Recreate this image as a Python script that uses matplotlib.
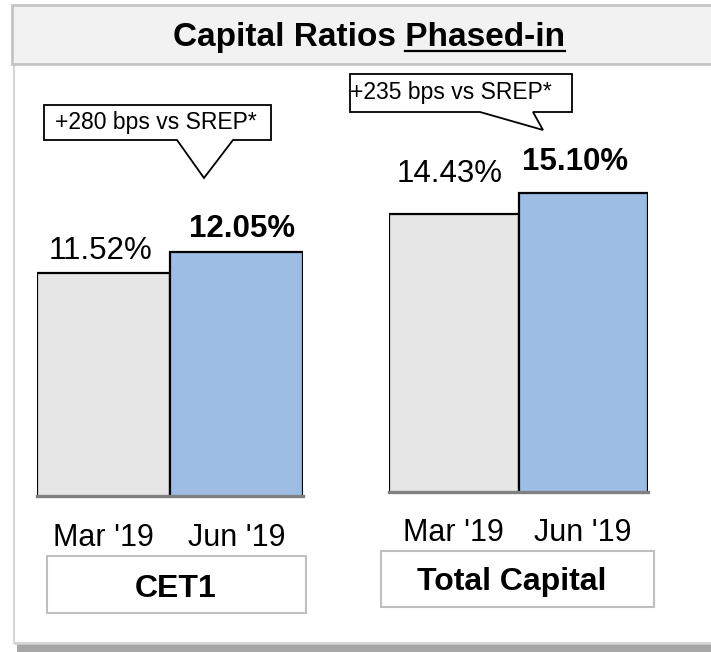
import matplotlib
matplotlib.use("Agg")
import matplotlib.pyplot as plt
from matplotlib.patches import Rectangle, Polygon

plt.rcParams['font.family'] = ['Liberation Sans', 'DejaVu Sans']

# data
periods = ["Mar '19", "Jun '19"]
cet1 = [11.52, 12.05]
total_capital = [14.43, 15.10]
groups = ["CET1", "Total Capital"]
callouts = ["+280 bps vs SREP*", "+235 bps vs SREP*"]
title_main = "Capital Ratios "
title_under = "Phased-in"

W, H = 711, 652
fig = plt.figure(figsize=(W / 100, H / 100), dpi=100)

# background axes in pixel coords (y down)
bg = fig.add_axes([0, 0, 1, 1])
bg.set_xlim(0, W)
bg.set_ylim(H, 0)
bg.axis('off')

# shadow + body + title band
bg.add_patch(Rectangle((17, 644), W, 8, facecolor='#a6a6a6', edgecolor='none'))
bg.add_patch(Rectangle((15, 642), W, 3, facecolor='#c8c8c8', edgecolor='none'))
bg.add_patch(Rectangle((14, 64), W, 579, facecolor='white', edgecolor='#d6d6d6', lw=1.5))
bg.add_patch(Rectangle((12, 5), W, 59, facecolor='#f2f2f2', edgecolor='#c4c4c4', lw=2))

title = bg.text(369, 46, title_main + title_under, fontsize=24, weight='bold',
                ha='center', va='baseline')


def px_axes(x0, x1, ytop, ybot):
    return fig.add_axes([x0 / W, 1 - ybot / H, (x1 - x0) / W, (ybot - ytop) / H])


def draw_bars(ax, values, ylim, label_offsets, tick_pad):
    xs = range(len(values))
    ax.bar(xs, values, width=1.0, color=['#e6e6e6', '#9dbde4'],
           edgecolor='black', linewidth=1.6, zorder=2)
    ax.set_xlim(-0.5, len(values) - 0.5)
    ax.set_ylim(*ylim)
    ax.axhline(ylim[0], color='#808080', lw=2.4, zorder=3, clip_on=False)
    for i, v in enumerate(values):
        ax.annotate("{:.2f}%".format(v), (i, v), xytext=label_offsets[i],
                    textcoords='offset points', ha='center', va='baseline',
                    fontsize=22.5, weight='bold' if i == 1 else 'normal',
                    annotation_clip=False)
    ax.set_xticks(list(xs), periods)
    ax.tick_params(axis='x', length=0, pad=tick_pad, labelsize=22)
    for lab in ax.get_xticklabels():
        lab.set_va('baseline')
    ax.set_yticks([])
    for s in ax.spines.values():
        s.set_visible(False)
    ax.patch.set_alpha(0)


ax1 = px_axes(37, 303, 100, 496)
draw_bars(ax1, cet1, (5.8, 15.94), [(-2, 10), (4, 10.5)], 36)

ax2 = px_axes(389, 648, 60, 492)
draw_bars(ax2, total_capital, (5.69, 19.27), [(-3, 23), (-6, 16)], 35)

# callouts
bg.add_patch(Polygon([(44, 105), (271, 105), (271, 140), (233, 140), (204, 178),
                      (177, 140), (44, 140)], closed=True, facecolor='white',
                     edgecolor='black', lw=1.3, zorder=4))
bg.text(156, 123, callouts[0], fontsize=16.5, ha='center', va='center', zorder=5)
bg.add_patch(Polygon([(350, 74), (572, 74), (572, 112), (533, 112), (543, 130),
                      (480, 112), (350, 112)], closed=True, facecolor='white',
                     edgecolor='black', lw=1.3, zorder=4))
bg.text(350, 93, callouts[1], fontsize=16.5, ha='left', va='center', zorder=5)

# group label boxes
bg.add_patch(Rectangle((47, 556), 259, 57, facecolor='white', edgecolor='#bfbfbf', lw=1.5))
bg.text(176, 597, groups[0], fontsize=23, weight='bold', ha='center', va='baseline')
bg.add_patch(Rectangle((381, 551), 273, 56, facecolor='white', edgecolor='#bfbfbf', lw=1.5))
bg.text(512, 590, groups[1], fontsize=23, weight='bold', ha='center', va='baseline')

# underline "Phased-in"
fig.canvas.draw()
r = fig.canvas.get_renderer()
bb = title.get_window_extent(r)
tmp = bg.text(0, 0, title_under, fontsize=24, weight='bold')
wu = tmp.get_window_extent(r).width
tmp.remove()
inv = bg.transData.inverted()
(ux0, _), (ux1, _) = inv.transform([(bb.x1 - wu, 0), (bb.x1, 0)])
bg.plot([ux0, ux1], [51, 51], color='black', lw=1.6)

fig.savefig("out.png", dpi=100)
